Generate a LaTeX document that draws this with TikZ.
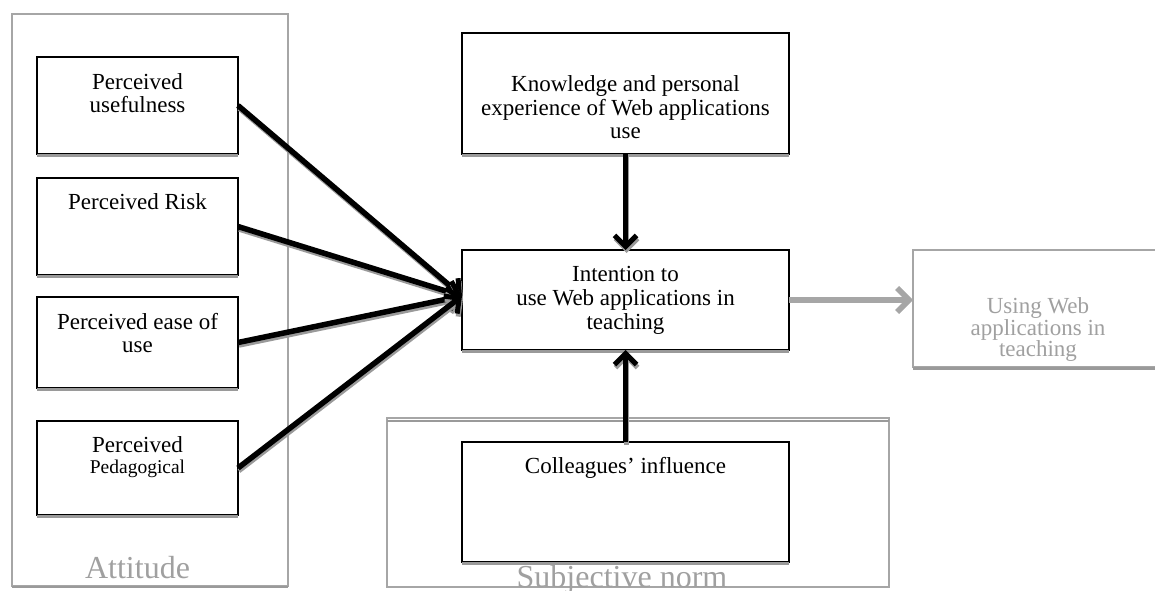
\documentclass[tikz,border=0pt]{standalone}
\usepackage{fontspec}
\setmainfont{Liberation Serif}
\usetikzlibrary{arrows.meta}
\definecolor{grp}{HTML}{A6A6A6}
\definecolor{grt}{HTML}{A0A0A0}
\definecolor{shd}{HTML}{9A9A9A}
\tikzset{
  box/.style={draw=black, line width=1.7pt, fill=white, inner sep=0pt, outer sep=0pt},
  gbox/.style={draw=grp, line width=1.8pt, inner sep=0pt, outer sep=0pt},
  txt/.style={anchor=base, inner sep=0pt, font=\fontsize{23}{24}\selectfont},
  gtxt/.style={txt, text=grt},
  big/.style={anchor=base, inner sep=0pt, text=grt, font=\fontsize{32}{34}\selectfont},
  conn/.style={line width=5.5pt, black,
    -{Straight Barb[length=11pt,width=22pt,line width=5pt]},
    preaction={draw=shd, line width=4.5pt, transform canvas={shift={(1pt,-3pt)}}}},
  gconn/.style={line width=6.5pt, grp,
    -{Straight Barb[length=12pt,width=24pt,line width=5.5pt]}},
}
\begin{document}
\begin{tikzpicture}[x=1pt,y=-1pt]
\useasboundingbox (0,0) rectangle (1155,590);
% group frames
\node[gbox, minimum width=276pt, minimum height=572pt] (att) at (150,300) {};
\fill[shd] (att.south west) rectangle ([yshift=-2pt]att.south east);
\node[gbox, minimum width=502pt, minimum height=169pt] (sn) at (638,502.5) {};
\fill[shd] ([yshift=-1.5pt]sn.north west) rectangle ([yshift=-3.5pt]sn.north east);
% boxes
\node[box, minimum width=201pt, minimum height=97pt] (pu) at (137.5,105.5) {};
\node[box, minimum width=201pt, minimum height=97pt] (pr) at (137.5,226.5) {};
\node[box, minimum width=201pt, minimum height=91pt] (pe) at (137.5,342.5) {};
\node[box, minimum width=201pt, minimum height=94pt] (pp) at (137.5,468) {};
\node[box, minimum width=327pt, minimum height=121pt] (kn) at (625.5,93.5) {};
\node[box, minimum width=327pt, minimum height=100pt] (in) at (625.5,300) {};
\node[box, minimum width=327pt, minimum height=120pt] (co) at (625.5,502) {};
\node[gbox, fill=white, minimum width=252pt, minimum height=117pt] (us) at (1039,308.5) {};
% shadows under boxes
\foreach \b in {pu,pr,pe,pp,kn,in,co,us}{
  \fill[shd] (\b.south west) rectangle ([yshift=-3pt]\b.south east);
}
% texts
\node[txt] (t1a) at (137.5,89) {Perceived};
\node[txt] (t1b) at (137.5,112) {usefulness};
\node[txt] (t2) at (137.5,209) {Perceived Risk};
\node[txt] (t3a) at (137.5,329) {Perceived ease of};
\node[txt] (t3b) at (137.5,352) {use};
\node[txt] (t4a) at (137.5,452) {Perceived};
\node[txt, font=\fontsize{19.5}{21}\selectfont] (t4b) at (137.5,473) {Pedagogical};
\node[txt] (tka) at (625.5,91) {Knowledge and personal};
\node[txt] (tkb) at (625.5,115) {experience of Web applications};
\node[txt] (tkc) at (625.5,138) {use};
\node[txt] (tia) at (625.5,281) {Intention to};
\node[txt] (tib) at (625.5,305) {use Web applications in};
\node[txt] (tic) at (625.5,329) {teaching};
\node[gtxt] (tua) at (1038,313) {Using Web};
\node[gtxt] (tub) at (1038,335) {applications in};
\node[gtxt] (tuc) at (1038,356) {teaching};
\node[txt] (tco) at (625.5,473) {Colleagues’ influence};
\node[big] (latt) at (137.5,578) {Attitude};
\node[big] (lsn) at (622,587) {Subjective norm};
% connectors
\coordinate (tip) at ([yshift=4pt]in.west);
\draw[conn] (pu.east) -- (tip);
\draw[conn] (pr.east) -- (tip);
\draw[conn] (pe.east) -- (tip);
\draw[conn] (pp.east) -- (tip);
\draw[conn] (kn.south) -- (in.north);
\draw[conn] (co.north) -- (in.south);
\coordinate (gtip) at (in.east -| us.west);
\draw[gconn] (in.east) -- (gtip);
\end{tikzpicture}
\end{document}
